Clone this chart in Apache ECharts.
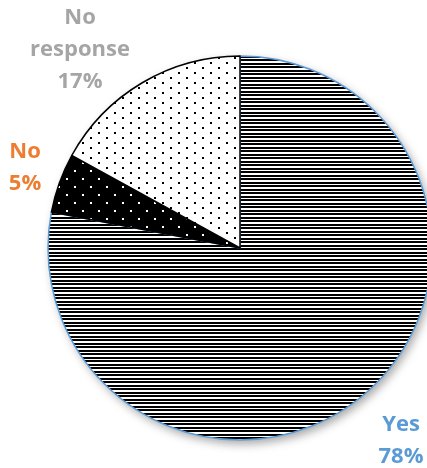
<!DOCTYPE html>
<html>
<head>
<meta charset="utf-8">
<script src="https://cdn.jsdelivr.net/npm/echarts@6/dist/echarts.min.js"></script>
<style>
  html, body { margin: 0; padding: 0; background: #fff; }
  #chart { width: 427px; height: 468px; }
</style>
</head>
<body>
<div id="chart"></div>
<script>
const categories = ["Yes", "No", "No response"];
const values = [78, 5, 17];
const labelColors = ["#5B9BD5", "#ED7D31", "#A5A5A5"];

// fill patterns
function makeTile(w, h, bg, fg, rects) {
  const c = document.createElement("canvas");
  c.width = w;
  c.height = h;
  const ctx = c.getContext("2d");
  ctx.fillStyle = bg;
  ctx.fillRect(0, 0, w, h);
  ctx.fillStyle = fg;
  rects.forEach(r => ctx.fillRect(r[0], r[1], r[2], r[3]));
  return c;
}
const stripes = makeTile(4, 7, "#fff", "#000", [[0, 0, 4, 2], [0, 3, 4, 2]]);
const blackDots = makeTile(16, 16, "#000", "#fff", [[2, 2, 2, 2], [10, 10, 2, 2]]);
const whiteDots = makeTile(16, 10, "#fff", "#000", [[2, 2, 2, 2], [10, 7, 2, 2]]);
const fills = [stripes, blackDots, whiteDots];
const borders = ["#5B9BD5", "#000", "#000"];

// label anchor points
const labelPos = [[401, 441], [25, 168], [80, 50]];

const myChart = echarts.init(document.getElementById("chart"));
myChart.setOption({
  animation: false,
  series: [
    {
      // shadow only
      type: "pie",
      silent: true,
      center: [240, 248],
      radius: 192,
      label: { show: false },
      labelLine: { show: false },
      data: [{ value: 1, name: "bg" }],
      itemStyle: {
        color: "#fff",
        shadowBlur: 10,
        shadowColor: "rgba(0,0,0,0.35)",
        shadowOffsetX: 3,
        shadowOffsetY: 4,
      },
    },
    {
      type: "pie",
      center: [240, 248],
      radius: 192,
      startAngle: 90,
      clockwise: true,
      avoidLabelOverlap: false,
      data: categories.map((name, i) => ({
        name: name,
        value: values[i],
        itemStyle: {
          color: { image: fills[i], repeat: "repeat" },
          borderColor: borders[i],
          borderWidth: 1.5,
        },
        label: { color: labelColors[i] },
      })),
      label: {
        show: true,
        position: "inside",
        overflow: "none",
        fontFamily: "Open Sans",
        fontWeight: "bold",
        fontSize: 22,
        lineHeight: 32,
        align: "center",
        formatter: p => p.name.split(" ").join("\n") + "\n" + p.percent + "%",
      },
      labelLine: { show: false },
      labelLayout: p => ({
        x: labelPos[p.dataIndex][0],
        y: labelPos[p.dataIndex][1],
        align: "center",
        verticalAlign: "middle",
      }),
    },
  ],
});
</script>
</body>
</html>
